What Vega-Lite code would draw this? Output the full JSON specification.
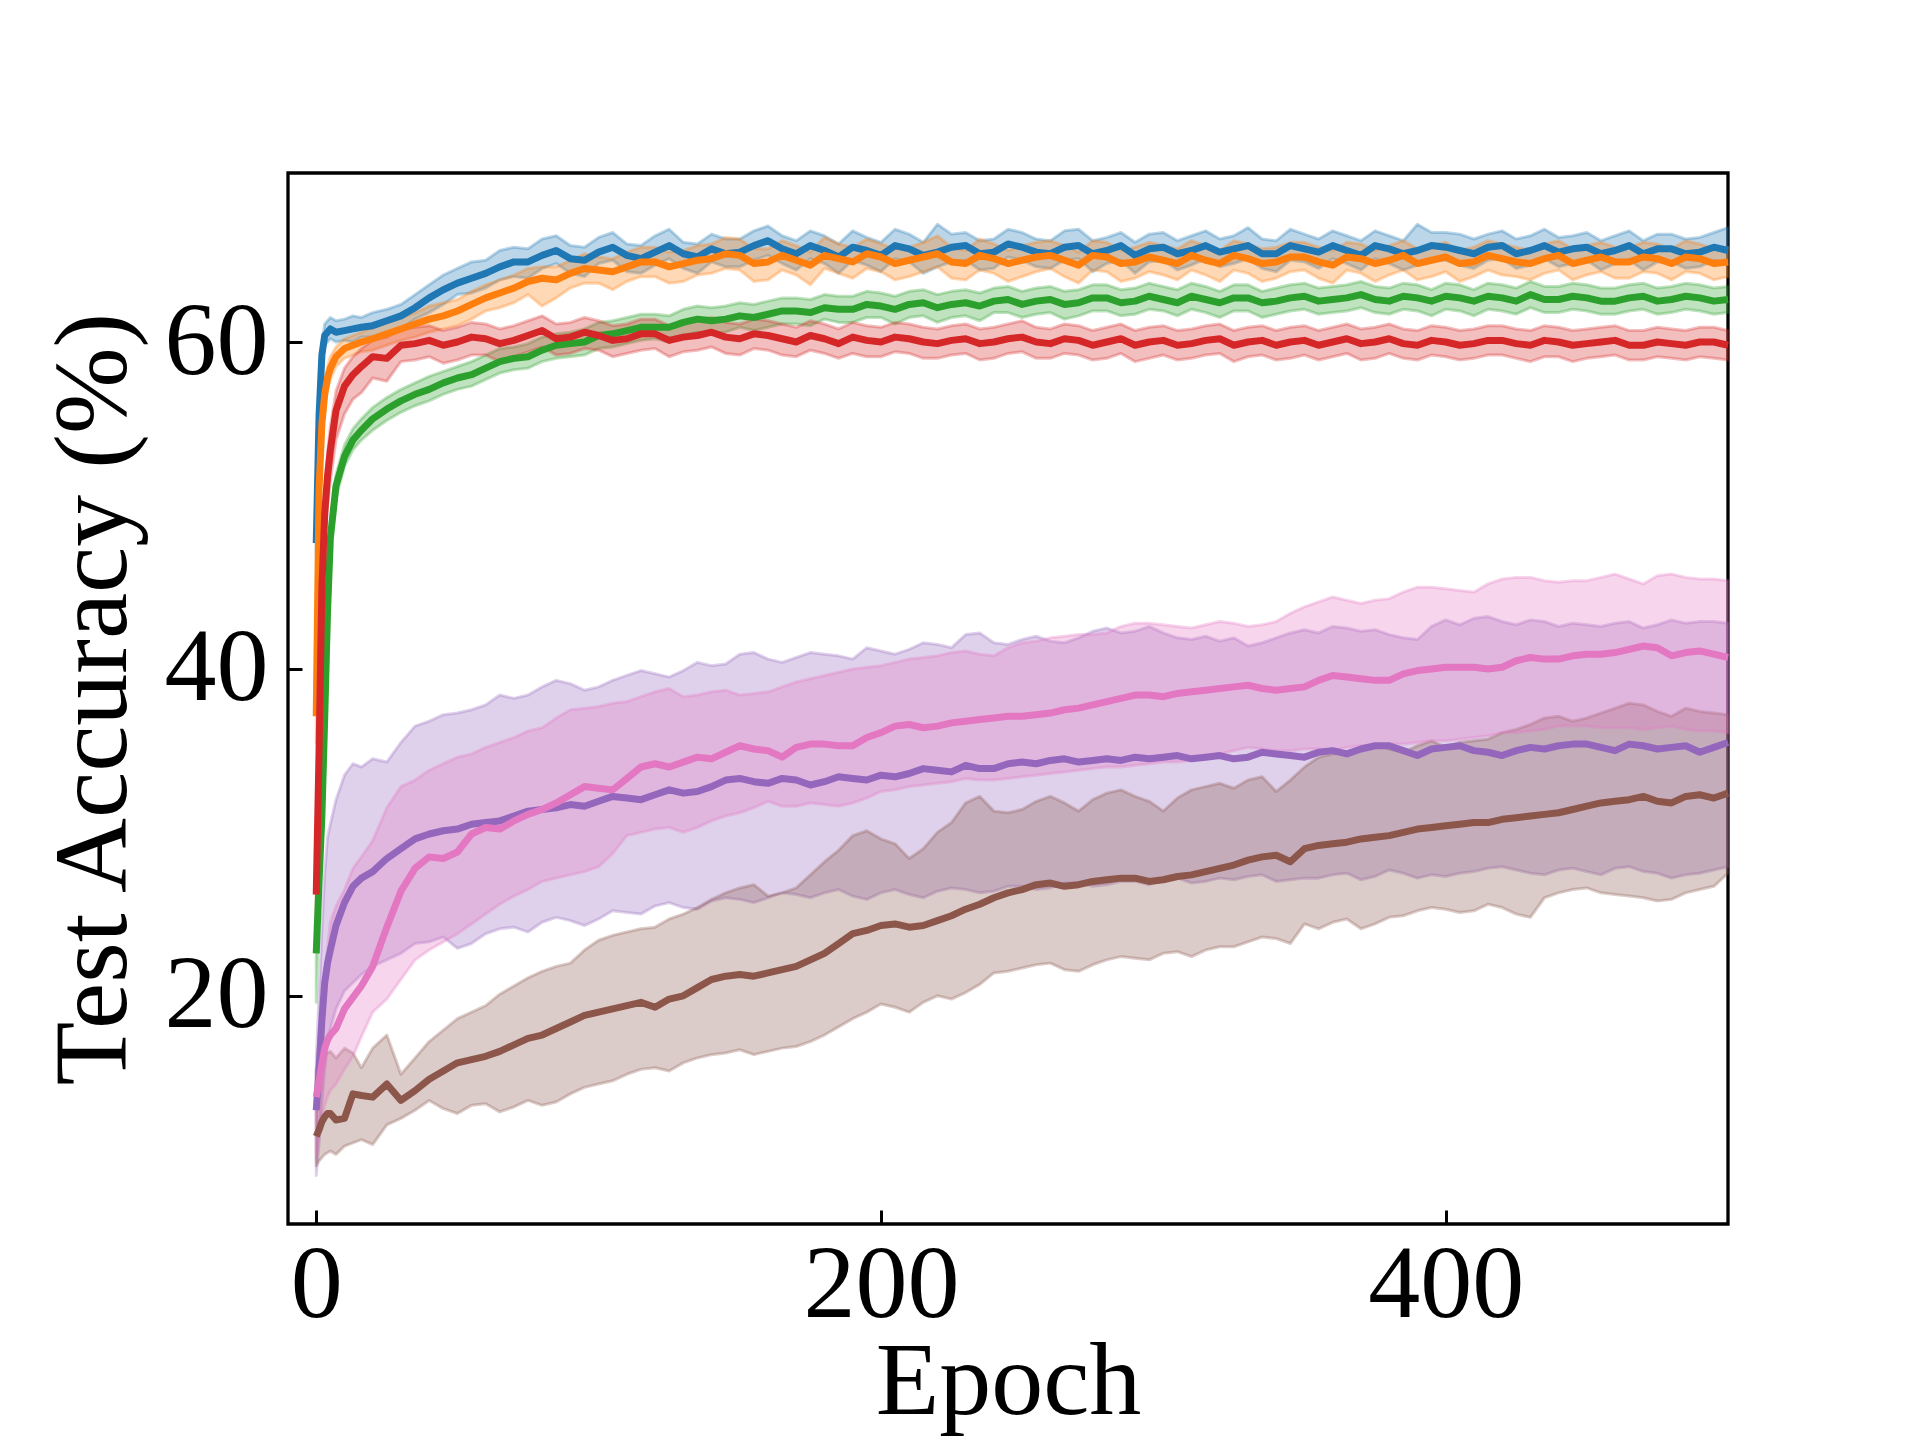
{
  "$schema": "https://vega.github.io/schema/vega-lite/v6.json",
  "description": "Test accuracy per epoch for seven runs, mean line with shaded band.",
  "width": 1440,
  "height": 1051,
  "autosize": {"type": "none"},
  "padding": {"left": 288, "top": 173, "right": 192, "bottom": 216},
  "background": "white",
  "datasets": {
    "runs": [
      {"s":"A","e":0,"m":47.7,"l":47.0,"h":48.6},{"s":"A","e":1,"m":55.5,"l":54.5,"h":56.5},{"s":"A","e":2,"m":59.2,"l":58.5,"h":59.9},{"s":"A","e":3,"m":60.4,"l":59.8,"h":61.1},{"s":"A","e":4,"m":60.6,"l":60.0,"h":61.3},{"s":"A","e":5,"m":60.8,"l":60.2,"h":61.5},{"s":"A","e":7,"m":60.6,"l":60.0,"h":61.3},{"s":"A","e":10,"m":60.7,"l":60.1,"h":61.4},{"s":"A","e":13,"m":60.8,"l":60.0,"h":61.6},{"s":"A","e":16,"m":60.9,"l":60.3,"h":61.5},{"s":"A","e":20,"m":61.0,"l":60.3,"h":61.8},{"s":"A","e":25,"m":61.3,"l":60.6,"h":62.0},{"s":"A","e":30,"m":61.6,"l":60.8,"h":62.3},{"s":"A","e":35,"m":62.1,"l":61.4,"h":62.9},{"s":"A","e":40,"m":62.7,"l":61.8,"h":63.5},{"s":"A","e":50,"m":63.6,"l":62.9,"h":64.5},{"s":"A","e":60,"m":64.2,"l":63.3,"h":65.0},{"s":"A","e":70,"m":64.9,"l":64.0,"h":65.8},{"s":"A","e":80,"m":65.3,"l":64.5,"h":66.3},{"s":"A","e":90,"m":65.1,"l":64.2,"h":65.9},{"s":"A","e":100,"m":65.5,"l":64.8,"h":66.4},{"s":"A","e":110,"m":65.3,"l":64.3,"h":66.0},{"s":"A","e":120,"m":65.5,"l":64.7,"h":66.5},{"s":"A","e":130,"m":65.4,"l":64.5,"h":66.1},{"s":"A","e":140,"m":65.7,"l":64.9,"h":66.6},{"s":"A","e":150,"m":65.5,"l":64.6,"h":66.3},{"s":"A","e":160,"m":66.2,"l":65.3,"h":67.1},{"s":"A","e":170,"m":65.4,"l":64.4,"h":66.2},{"s":"A","e":180,"m":65.6,"l":64.8,"h":66.5},{"s":"A","e":190,"m":65.8,"l":65.0,"h":66.8},{"s":"A","e":200,"m":65.3,"l":64.3,"h":66.1},{"s":"A","e":210,"m":65.7,"l":64.9,"h":66.6},{"s":"A","e":220,"m":65.5,"l":64.6,"h":67.2},{"s":"A","e":230,"m":65.9,"l":65.0,"h":66.7},{"s":"A","e":240,"m":65.5,"l":64.5,"h":66.3},{"s":"A","e":250,"m":65.8,"l":65.0,"h":66.7},{"s":"A","e":260,"m":65.4,"l":64.5,"h":66.2},{"s":"A","e":270,"m":65.9,"l":65.1,"h":66.9},{"s":"A","e":280,"m":65.6,"l":64.8,"h":66.4},{"s":"A","e":290,"m":65.3,"l":64.2,"h":66.1},{"s":"A","e":300,"m":65.8,"l":65.0,"h":66.7},{"s":"A","e":310,"m":65.6,"l":64.7,"h":66.5},{"s":"A","e":320,"m":65.5,"l":64.6,"h":66.3},{"s":"A","e":330,"m":65.9,"l":65.1,"h":67.0},{"s":"A","e":340,"m":65.4,"l":64.3,"h":66.2},{"s":"A","e":350,"m":65.7,"l":64.9,"h":66.6},{"s":"A","e":360,"m":65.9,"l":65.1,"h":66.8},{"s":"A","e":370,"m":65.3,"l":64.4,"h":66.2},{"s":"A","e":380,"m":65.7,"l":64.8,"h":66.5},{"s":"A","e":390,"m":65.6,"l":64.7,"h":67.2},{"s":"A","e":400,"m":65.8,"l":65.0,"h":66.7},{"s":"A","e":410,"m":65.4,"l":64.5,"h":66.3},{"s":"A","e":420,"m":65.9,"l":65.1,"h":66.8},{"s":"A","e":430,"m":65.6,"l":64.7,"h":66.5},{"s":"A","e":440,"m":65.5,"l":64.6,"h":66.4},{"s":"A","e":450,"m":65.8,"l":65.0,"h":66.7},{"s":"A","e":460,"m":65.6,"l":64.8,"h":66.5},{"s":"A","e":470,"m":65.4,"l":64.4,"h":66.2},{"s":"A","e":480,"m":65.7,"l":64.9,"h":66.6},{"s":"A","e":490,"m":65.5,"l":64.6,"h":66.4},{"s":"A","e":500,"m":65.6,"l":64.8,"h":67.0},
      {"s":"B","e":0,"m":37.1,"l":35.5,"h":38.5},{"s":"B","e":1,"m":51.0,"l":50.0,"h":52.0},{"s":"B","e":2,"m":55.0,"l":54.2,"h":55.8},{"s":"B","e":3,"m":56.8,"l":56.0,"h":57.6},{"s":"B","e":4,"m":57.8,"l":57.1,"h":58.5},{"s":"B","e":5,"m":58.4,"l":57.7,"h":59.1},{"s":"B","e":7,"m":59.1,"l":58.5,"h":59.7},{"s":"B","e":10,"m":59.6,"l":59.0,"h":60.2},{"s":"B","e":13,"m":59.8,"l":59.2,"h":60.4},{"s":"B","e":16,"m":60.0,"l":59.4,"h":60.6},{"s":"B","e":20,"m":60.2,"l":59.5,"h":60.9},{"s":"B","e":25,"m":60.5,"l":59.8,"h":61.2},{"s":"B","e":30,"m":60.8,"l":60.1,"h":61.5},{"s":"B","e":35,"m":61.1,"l":60.3,"h":61.8},{"s":"B","e":40,"m":61.4,"l":60.6,"h":62.2},{"s":"B","e":50,"m":61.9,"l":61.0,"h":62.6},{"s":"B","e":60,"m":62.7,"l":61.9,"h":63.5},{"s":"B","e":70,"m":63.3,"l":62.4,"h":64.1},{"s":"B","e":80,"m":63.9,"l":62.2,"h":64.6},{"s":"B","e":90,"m":64.2,"l":63.3,"h":65.0},{"s":"B","e":100,"m":64.4,"l":63.6,"h":65.2},{"s":"B","e":110,"m":64.6,"l":63.7,"h":65.5},{"s":"B","e":120,"m":64.9,"l":64.0,"h":65.8},{"s":"B","e":130,"m":64.8,"l":63.7,"h":65.6},{"s":"B","e":140,"m":65.1,"l":64.2,"h":66.0},{"s":"B","e":150,"m":65.3,"l":64.4,"h":66.3},{"s":"B","e":160,"m":64.9,"l":63.8,"h":65.7},{"s":"B","e":170,"m":65.0,"l":64.1,"h":65.9},{"s":"B","e":180,"m":65.3,"l":64.5,"h":66.4},{"s":"B","e":190,"m":64.9,"l":63.9,"h":65.8},{"s":"B","e":200,"m":65.2,"l":64.3,"h":66.0},{"s":"B","e":210,"m":65.0,"l":64.0,"h":65.8},{"s":"B","e":220,"m":65.4,"l":64.6,"h":66.5},{"s":"B","e":230,"m":64.8,"l":63.8,"h":65.6},{"s":"B","e":240,"m":65.1,"l":64.2,"h":66.0},{"s":"B","e":250,"m":65.0,"l":64.0,"h":65.9},{"s":"B","e":260,"m":65.3,"l":64.5,"h":66.2},{"s":"B","e":270,"m":64.7,"l":63.6,"h":65.5},{"s":"B","e":280,"m":65.2,"l":64.3,"h":66.1},{"s":"B","e":290,"m":64.9,"l":63.9,"h":65.8},{"s":"B","e":300,"m":65.0,"l":64.1,"h":65.9},{"s":"B","e":310,"m":65.3,"l":64.4,"h":66.2},{"s":"B","e":320,"m":64.8,"l":63.7,"h":65.6},{"s":"B","e":330,"m":65.1,"l":64.2,"h":66.0},{"s":"B","e":340,"m":64.9,"l":63.9,"h":65.8},{"s":"B","e":350,"m":65.2,"l":64.4,"h":66.1},{"s":"B","e":360,"m":64.7,"l":63.6,"h":65.6},{"s":"B","e":370,"m":65.1,"l":64.2,"h":66.0},{"s":"B","e":380,"m":65.0,"l":64.1,"h":65.9},{"s":"B","e":390,"m":64.8,"l":63.8,"h":65.7},{"s":"B","e":400,"m":65.2,"l":64.3,"h":66.1},{"s":"B","e":410,"m":64.9,"l":64.0,"h":65.8},{"s":"B","e":420,"m":65.1,"l":64.1,"h":66.0},{"s":"B","e":430,"m":64.8,"l":63.8,"h":65.6},{"s":"B","e":440,"m":65.3,"l":64.4,"h":66.2},{"s":"B","e":450,"m":65.0,"l":64.1,"h":65.9},{"s":"B","e":460,"m":64.9,"l":63.9,"h":65.8},{"s":"B","e":470,"m":65.2,"l":64.3,"h":66.1},{"s":"B","e":480,"m":64.8,"l":63.8,"h":65.7},{"s":"B","e":490,"m":65.1,"l":64.2,"h":66.0},{"s":"B","e":500,"m":64.9,"l":64.0,"h":65.8},
      {"s":"C","e":0,"m":22.6,"l":19.6,"h":23.5},{"s":"C","e":1,"m":27.0,"l":25.5,"h":28.3},{"s":"C","e":2,"m":31.0,"l":30.0,"h":32.0},{"s":"C","e":3,"m":37.0,"l":36.0,"h":38.0},{"s":"C","e":4,"m":43.5,"l":42.6,"h":44.4},{"s":"C","e":5,"m":48.0,"l":47.3,"h":48.8},{"s":"C","e":7,"m":51.2,"l":50.5,"h":51.9},{"s":"C","e":10,"m":53.0,"l":52.4,"h":53.7},{"s":"C","e":13,"m":54.0,"l":53.4,"h":54.7},{"s":"C","e":16,"m":54.6,"l":54.0,"h":55.3},{"s":"C","e":20,"m":55.3,"l":54.6,"h":56.0},{"s":"C","e":25,"m":55.9,"l":55.2,"h":56.6},{"s":"C","e":30,"m":56.4,"l":55.7,"h":57.1},{"s":"C","e":35,"m":56.8,"l":56.1,"h":57.5},{"s":"C","e":40,"m":57.1,"l":56.4,"h":57.9},{"s":"C","e":50,"m":57.8,"l":57.1,"h":58.5},{"s":"C","e":60,"m":58.4,"l":57.7,"h":59.2},{"s":"C","e":70,"m":59.0,"l":58.3,"h":59.7},{"s":"C","e":80,"m":59.5,"l":58.8,"h":60.3},{"s":"C","e":90,"m":59.9,"l":59.1,"h":60.6},{"s":"C","e":100,"m":60.4,"l":59.6,"h":61.2},{"s":"C","e":110,"m":60.7,"l":59.9,"h":61.5},{"s":"C","e":120,"m":60.9,"l":60.2,"h":61.7},{"s":"C","e":130,"m":61.2,"l":60.4,"h":62.0},{"s":"C","e":140,"m":61.3,"l":60.5,"h":62.1},{"s":"C","e":150,"m":61.6,"l":60.9,"h":62.4},{"s":"C","e":160,"m":61.7,"l":60.9,"h":62.5},{"s":"C","e":170,"m":61.9,"l":61.1,"h":62.7},{"s":"C","e":180,"m":62.1,"l":61.4,"h":62.9},{"s":"C","e":190,"m":62.0,"l":61.2,"h":62.8},{"s":"C","e":200,"m":62.2,"l":61.5,"h":63.0},{"s":"C","e":210,"m":62.3,"l":61.5,"h":63.1},{"s":"C","e":220,"m":62.1,"l":61.2,"h":62.9},{"s":"C","e":230,"m":62.4,"l":61.6,"h":63.2},{"s":"C","e":240,"m":62.5,"l":61.8,"h":63.3},{"s":"C","e":250,"m":62.3,"l":61.5,"h":63.1},{"s":"C","e":260,"m":62.6,"l":61.8,"h":63.4},{"s":"C","e":270,"m":62.4,"l":61.6,"h":63.2},{"s":"C","e":280,"m":62.7,"l":61.9,"h":63.5},{"s":"C","e":290,"m":62.5,"l":61.7,"h":63.3},{"s":"C","e":300,"m":62.6,"l":61.9,"h":63.4},{"s":"C","e":310,"m":62.8,"l":62.0,"h":63.6},{"s":"C","e":320,"m":62.4,"l":61.5,"h":63.1},{"s":"C","e":330,"m":62.7,"l":61.9,"h":63.5},{"s":"C","e":340,"m":62.5,"l":61.7,"h":63.3},{"s":"C","e":350,"m":62.8,"l":62.0,"h":63.6},{"s":"C","e":360,"m":62.6,"l":61.8,"h":63.4},{"s":"C","e":370,"m":62.9,"l":62.1,"h":63.7},{"s":"C","e":380,"m":62.5,"l":61.7,"h":63.3},{"s":"C","e":390,"m":62.7,"l":61.9,"h":63.5},{"s":"C","e":400,"m":62.8,"l":62.0,"h":63.6},{"s":"C","e":410,"m":62.5,"l":61.6,"h":63.2},{"s":"C","e":420,"m":62.7,"l":61.9,"h":63.5},{"s":"C","e":430,"m":62.9,"l":62.1,"h":63.7},{"s":"C","e":440,"m":62.6,"l":61.8,"h":63.4},{"s":"C","e":450,"m":62.7,"l":61.9,"h":63.5},{"s":"C","e":460,"m":62.5,"l":61.7,"h":63.3},{"s":"C","e":470,"m":62.8,"l":62.0,"h":63.6},{"s":"C","e":480,"m":62.6,"l":61.8,"h":63.4},{"s":"C","e":490,"m":62.7,"l":61.9,"h":63.5},{"s":"C","e":500,"m":62.6,"l":61.8,"h":63.4},
      {"s":"D","e":0,"m":26.2,"l":24.0,"h":28.0},{"s":"D","e":1,"m":35.0,"l":33.0,"h":37.0},{"s":"D","e":2,"m":45.0,"l":43.2,"h":46.8},{"s":"D","e":3,"m":49.5,"l":47.6,"h":51.0},{"s":"D","e":4,"m":51.8,"l":50.0,"h":53.2},{"s":"D","e":5,"m":53.4,"l":51.5,"h":54.8},{"s":"D","e":7,"m":55.8,"l":54.0,"h":57.0},{"s":"D","e":10,"m":57.3,"l":55.6,"h":58.4},{"s":"D","e":13,"m":58.0,"l":56.5,"h":59.1},{"s":"D","e":16,"m":58.5,"l":56.9,"h":59.6},{"s":"D","e":20,"m":59.1,"l":57.8,"h":60.1},{"s":"D","e":25,"m":59.0,"l":57.6,"h":60.3},{"s":"D","e":30,"m":59.8,"l":58.8,"h":60.8},{"s":"D","e":35,"m":59.9,"l":58.9,"h":60.9},{"s":"D","e":40,"m":60.1,"l":59.1,"h":61.0},{"s":"D","e":50,"m":60.0,"l":58.9,"h":60.9},{"s":"D","e":60,"m":60.2,"l":59.2,"h":61.1},{"s":"D","e":70,"m":60.1,"l":59.1,"h":61.0},{"s":"D","e":80,"m":60.7,"l":59.7,"h":61.6},{"s":"D","e":90,"m":60.3,"l":59.3,"h":61.2},{"s":"D","e":100,"m":60.4,"l":59.5,"h":61.3},{"s":"D","e":110,"m":60.2,"l":59.3,"h":61.1},{"s":"D","e":120,"m":60.5,"l":59.6,"h":61.4},{"s":"D","e":130,"m":60.3,"l":59.4,"h":61.2},{"s":"D","e":140,"m":60.6,"l":59.7,"h":61.5},{"s":"D","e":150,"m":60.2,"l":59.2,"h":61.1},{"s":"D","e":160,"m":60.4,"l":59.5,"h":61.3},{"s":"D","e":170,"m":60.0,"l":59.1,"h":60.9},{"s":"D","e":180,"m":60.2,"l":59.3,"h":61.1},{"s":"D","e":190,"m":60.3,"l":59.3,"h":61.2},{"s":"D","e":200,"m":60.0,"l":59.1,"h":60.9},{"s":"D","e":210,"m":60.2,"l":59.3,"h":61.1},{"s":"D","e":220,"m":59.9,"l":59.0,"h":60.8},{"s":"D","e":230,"m":60.2,"l":59.3,"h":61.1},{"s":"D","e":240,"m":60.0,"l":59.0,"h":60.9},{"s":"D","e":250,"m":60.3,"l":59.4,"h":61.3},{"s":"D","e":260,"m":59.9,"l":59.0,"h":60.8},{"s":"D","e":270,"m":60.1,"l":59.2,"h":61.0},{"s":"D","e":280,"m":60.0,"l":59.0,"h":60.9},{"s":"D","e":290,"m":59.8,"l":58.8,"h":60.7},{"s":"D","e":300,"m":60.1,"l":59.2,"h":61.0},{"s":"D","e":310,"m":59.9,"l":59.0,"h":60.8},{"s":"D","e":320,"m":60.2,"l":59.3,"h":61.1},{"s":"D","e":330,"m":60.0,"l":59.1,"h":60.9},{"s":"D","e":340,"m":59.8,"l":58.9,"h":60.7},{"s":"D","e":350,"m":60.1,"l":59.2,"h":61.0},{"s":"D","e":360,"m":60.0,"l":59.1,"h":60.9},{"s":"D","e":370,"m":59.9,"l":58.9,"h":60.8},{"s":"D","e":380,"m":60.2,"l":59.3,"h":61.1},{"s":"D","e":390,"m":59.8,"l":58.9,"h":60.7},{"s":"D","e":400,"m":60.0,"l":59.1,"h":60.9},{"s":"D","e":410,"m":59.9,"l":59.0,"h":60.8},{"s":"D","e":420,"m":60.1,"l":59.2,"h":61.0},{"s":"D","e":430,"m":59.8,"l":58.8,"h":60.7},{"s":"D","e":440,"m":60.0,"l":59.1,"h":60.9},{"s":"D","e":450,"m":59.9,"l":59.0,"h":60.8},{"s":"D","e":460,"m":60.1,"l":59.2,"h":61.0},{"s":"D","e":470,"m":59.8,"l":58.9,"h":60.7},{"s":"D","e":480,"m":59.9,"l":59.0,"h":60.8},{"s":"D","e":490,"m":60.0,"l":59.1,"h":60.9},{"s":"D","e":500,"m":59.8,"l":58.9,"h":60.7},
      {"s":"E","e":0,"m":13.0,"l":9.0,"h":16.0},{"s":"E","e":1,"m":15.5,"l":11.0,"h":20.0},{"s":"E","e":2,"m":18.5,"l":13.5,"h":24.0},{"s":"E","e":3,"m":20.8,"l":15.5,"h":27.5},{"s":"E","e":4,"m":22.0,"l":17.0,"h":29.7},{"s":"E","e":5,"m":22.8,"l":18.0,"h":30.5},{"s":"E","e":7,"m":24.3,"l":19.2,"h":32.0},{"s":"E","e":10,"m":25.7,"l":20.3,"h":33.5},{"s":"E","e":13,"m":26.7,"l":20.8,"h":34.2},{"s":"E","e":16,"m":27.2,"l":21.3,"h":34.0},{"s":"E","e":20,"m":27.6,"l":21.8,"h":34.5},{"s":"E","e":25,"m":28.4,"l":22.2,"h":34.3},{"s":"E","e":30,"m":29.0,"l":22.6,"h":35.5},{"s":"E","e":35,"m":29.6,"l":23.2,"h":36.5},{"s":"E","e":40,"m":29.9,"l":23.3,"h":36.8},{"s":"E","e":50,"m":30.2,"l":22.9,"h":37.3},{"s":"E","e":60,"m":30.6,"l":23.8,"h":37.8},{"s":"E","e":70,"m":31.0,"l":24.2,"h":38.2},{"s":"E","e":80,"m":31.4,"l":24.5,"h":38.9},{"s":"E","e":90,"m":31.7,"l":24.6,"h":39.1},{"s":"E","e":100,"m":31.9,"l":24.7,"h":38.9},{"s":"E","e":110,"m":32.1,"l":25.1,"h":39.6},{"s":"E","e":120,"m":32.3,"l":25.5,"h":39.7},{"s":"E","e":130,"m":32.4,"l":25.4,"h":39.9},{"s":"E","e":140,"m":32.8,"l":25.8,"h":40.2},{"s":"E","e":150,"m":33.3,"l":25.9,"h":40.9},{"s":"E","e":160,"m":33.0,"l":26.0,"h":40.6},{"s":"E","e":170,"m":33.2,"l":26.2,"h":40.7},{"s":"E","e":180,"m":33.1,"l":26.3,"h":40.9},{"s":"E","e":190,"m":33.3,"l":26.1,"h":40.6},{"s":"E","e":200,"m":33.5,"l":26.3,"h":41.1},{"s":"E","e":210,"m":33.6,"l":26.2,"h":41.2},{"s":"E","e":220,"m":33.8,"l":26.4,"h":41.5},{"s":"E","e":230,"m":34.1,"l":26.5,"h":42.1},{"s":"E","e":240,"m":33.9,"l":26.4,"h":41.6},{"s":"E","e":250,"m":34.3,"l":26.7,"h":41.8},{"s":"E","e":260,"m":34.4,"l":26.6,"h":41.7},{"s":"E","e":270,"m":34.3,"l":26.9,"h":41.9},{"s":"E","e":280,"m":34.5,"l":26.8,"h":42.5},{"s":"E","e":290,"m":34.6,"l":27.0,"h":42.3},{"s":"E","e":300,"m":34.6,"l":27.1,"h":42.2},{"s":"E","e":310,"m":34.5,"l":26.9,"h":41.8},{"s":"E","e":320,"m":34.7,"l":27.2,"h":41.7},{"s":"E","e":330,"m":34.6,"l":27.3,"h":41.4},{"s":"E","e":340,"m":34.8,"l":27.0,"h":41.9},{"s":"E","e":350,"m":34.6,"l":27.2,"h":42.4},{"s":"E","e":360,"m":35.0,"l":27.4,"h":42.6},{"s":"E","e":370,"m":35.1,"l":27.1,"h":42.3},{"s":"E","e":380,"m":35.3,"l":27.7,"h":42.1},{"s":"E","e":390,"m":34.7,"l":27.2,"h":41.8},{"s":"E","e":400,"m":35.2,"l":27.3,"h":43.0},{"s":"E","e":410,"m":35.0,"l":27.6,"h":43.1},{"s":"E","e":420,"m":34.7,"l":27.9,"h":42.9},{"s":"E","e":430,"m":35.2,"l":27.5,"h":43.0},{"s":"E","e":440,"m":35.3,"l":27.7,"h":42.6},{"s":"E","e":450,"m":35.4,"l":27.6,"h":42.7},{"s":"E","e":460,"m":35.0,"l":27.8,"h":42.8},{"s":"E","e":470,"m":35.3,"l":27.6,"h":42.5},{"s":"E","e":480,"m":35.2,"l":27.2,"h":43.0},{"s":"E","e":490,"m":34.9,"l":27.5,"h":42.9},{"s":"E","e":500,"m":35.5,"l":27.9,"h":42.8},
      {"s":"F","e":0,"m":11.4,"l":9.6,"h":15.5},{"s":"F","e":1,"m":11.8,"l":9.9,"h":16.0},{"s":"F","e":2,"m":12.3,"l":10.1,"h":16.3},{"s":"F","e":3,"m":12.6,"l":10.3,"h":16.5},{"s":"F","e":4,"m":12.8,"l":10.4,"h":16.5},{"s":"F","e":5,"m":12.8,"l":10.5,"h":16.6},{"s":"F","e":7,"m":12.4,"l":10.3,"h":16.2},{"s":"F","e":10,"m":12.5,"l":10.8,"h":16.8},{"s":"F","e":13,"m":14.0,"l":11.0,"h":16.5},{"s":"F","e":16,"m":13.9,"l":11.2,"h":15.6},{"s":"F","e":20,"m":13.8,"l":10.9,"h":16.8},{"s":"F","e":25,"m":14.6,"l":12.1,"h":17.6},{"s":"F","e":30,"m":13.6,"l":12.5,"h":15.2},{"s":"F","e":35,"m":14.2,"l":13.0,"h":16.2},{"s":"F","e":40,"m":14.9,"l":13.6,"h":17.2},{"s":"F","e":50,"m":15.9,"l":12.8,"h":18.6},{"s":"F","e":60,"m":16.3,"l":13.4,"h":19.4},{"s":"F","e":70,"m":17.0,"l":13.2,"h":20.6},{"s":"F","e":80,"m":17.6,"l":13.3,"h":21.5},{"s":"F","e":90,"m":18.4,"l":14.0,"h":22.0},{"s":"F","e":100,"m":19.0,"l":14.6,"h":23.4},{"s":"F","e":110,"m":19.4,"l":15.2,"h":23.9},{"s":"F","e":120,"m":19.3,"l":15.6,"h":24.2},{"s":"F","e":130,"m":20.0,"l":15.9,"h":25.0},{"s":"F","e":140,"m":21.0,"l":16.4,"h":25.9},{"s":"F","e":150,"m":21.3,"l":16.7,"h":26.6},{"s":"F","e":160,"m":21.4,"l":16.6,"h":26.1},{"s":"F","e":170,"m":21.8,"l":16.9,"h":26.6},{"s":"F","e":180,"m":22.6,"l":17.6,"h":28.2},{"s":"F","e":190,"m":23.8,"l":18.6,"h":29.8},{"s":"F","e":200,"m":24.3,"l":19.5,"h":29.6},{"s":"F","e":210,"m":24.2,"l":19.0,"h":28.4},{"s":"F","e":220,"m":24.6,"l":20.0,"h":30.0},{"s":"F","e":230,"m":25.3,"l":20.2,"h":31.8},{"s":"F","e":240,"m":26.0,"l":21.4,"h":31.3},{"s":"F","e":250,"m":26.5,"l":21.7,"h":31.4},{"s":"F","e":260,"m":26.9,"l":22.0,"h":32.2},{"s":"F","e":270,"m":26.8,"l":21.5,"h":31.3},{"s":"F","e":280,"m":27.1,"l":22.2,"h":32.4},{"s":"F","e":290,"m":27.2,"l":22.3,"h":32.2},{"s":"F","e":300,"m":27.1,"l":22.6,"h":31.3},{"s":"F","e":310,"m":27.4,"l":22.4,"h":32.6},{"s":"F","e":320,"m":27.8,"l":23.0,"h":33.0},{"s":"F","e":330,"m":28.3,"l":23.3,"h":33.2},{"s":"F","e":340,"m":28.6,"l":23.5,"h":32.5},{"s":"F","e":350,"m":29.0,"l":24.4,"h":34.0},{"s":"F","e":360,"m":29.3,"l":24.5,"h":34.8},{"s":"F","e":370,"m":29.6,"l":24.1,"h":35.2},{"s":"F","e":380,"m":29.8,"l":24.8,"h":35.1},{"s":"F","e":390,"m":30.2,"l":25.2,"h":35.3},{"s":"F","e":400,"m":30.4,"l":25.3,"h":35.2},{"s":"F","e":410,"m":30.6,"l":25.2,"h":35.6},{"s":"F","e":420,"m":30.8,"l":25.4,"h":36.1},{"s":"F","e":430,"m":31.0,"l":24.8,"h":36.6},{"s":"F","e":440,"m":31.2,"l":26.3,"h":37.1},{"s":"F","e":450,"m":31.6,"l":26.6,"h":37.0},{"s":"F","e":460,"m":31.9,"l":26.2,"h":37.6},{"s":"F","e":470,"m":32.2,"l":26.0,"h":37.8},{"s":"F","e":480,"m":31.8,"l":25.9,"h":37.1},{"s":"F","e":490,"m":32.3,"l":26.5,"h":37.4},{"s":"F","e":500,"m":32.4,"l":27.5,"h":37.2},
      {"s":"G","e":0,"m":13.8,"l":10.0,"h":15.5},{"s":"G","e":1,"m":14.8,"l":11.5,"h":17.5},{"s":"G","e":2,"m":15.8,"l":12.5,"h":19.5},{"s":"G","e":3,"m":16.8,"l":13.3,"h":21.5},{"s":"G","e":4,"m":17.3,"l":13.8,"h":23.0},{"s":"G","e":5,"m":17.6,"l":14.2,"h":24.5},{"s":"G","e":7,"m":18.0,"l":14.6,"h":25.5},{"s":"G","e":10,"m":19.2,"l":15.5,"h":26.5},{"s":"G","e":13,"m":19.9,"l":16.3,"h":27.8},{"s":"G","e":16,"m":20.6,"l":17.5,"h":28.5},{"s":"G","e":20,"m":21.8,"l":19.0,"h":29.5},{"s":"G","e":25,"m":24.2,"l":19.8,"h":31.5},{"s":"G","e":30,"m":26.4,"l":21.0,"h":32.8},{"s":"G","e":35,"m":27.8,"l":22.2,"h":33.2},{"s":"G","e":40,"m":28.5,"l":22.8,"h":33.8},{"s":"G","e":50,"m":28.8,"l":23.8,"h":34.6},{"s":"G","e":60,"m":30.3,"l":25.0,"h":35.2},{"s":"G","e":70,"m":30.7,"l":26.1,"h":35.8},{"s":"G","e":80,"m":31.4,"l":27.0,"h":36.4},{"s":"G","e":90,"m":32.3,"l":27.4,"h":37.5},{"s":"G","e":100,"m":32.7,"l":27.9,"h":37.7},{"s":"G","e":110,"m":33.3,"l":29.8,"h":38.0},{"s":"G","e":120,"m":34.2,"l":30.2,"h":38.6},{"s":"G","e":130,"m":34.3,"l":30.0,"h":38.3},{"s":"G","e":140,"m":34.5,"l":30.7,"h":38.6},{"s":"G","e":150,"m":35.3,"l":31.2,"h":38.4},{"s":"G","e":160,"m":35.0,"l":31.9,"h":38.6},{"s":"G","e":170,"m":35.2,"l":31.6,"h":39.2},{"s":"G","e":180,"m":35.4,"l":31.7,"h":39.6},{"s":"G","e":190,"m":35.3,"l":31.8,"h":40.0},{"s":"G","e":200,"m":36.1,"l":32.5,"h":40.2},{"s":"G","e":210,"m":36.6,"l":32.8,"h":40.6},{"s":"G","e":220,"m":36.5,"l":33.0,"h":40.8},{"s":"G","e":230,"m":36.8,"l":33.3,"h":41.1},{"s":"G","e":240,"m":37.0,"l":33.2,"h":40.8},{"s":"G","e":250,"m":37.1,"l":33.4,"h":41.6},{"s":"G","e":260,"m":37.3,"l":33.6,"h":41.9},{"s":"G","e":270,"m":37.6,"l":33.8,"h":42.1},{"s":"G","e":280,"m":38.0,"l":34.0,"h":42.2},{"s":"G","e":290,"m":38.4,"l":34.1,"h":42.8},{"s":"G","e":300,"m":38.3,"l":34.3,"h":42.7},{"s":"G","e":310,"m":38.6,"l":34.4,"h":42.5},{"s":"G","e":320,"m":38.8,"l":34.8,"h":42.9},{"s":"G","e":330,"m":39.0,"l":35.2,"h":42.6},{"s":"G","e":340,"m":38.7,"l":35.0,"h":42.9},{"s":"G","e":350,"m":38.9,"l":35.1,"h":43.8},{"s":"G","e":360,"m":39.6,"l":35.0,"h":44.4},{"s":"G","e":370,"m":39.4,"l":35.3,"h":44.0},{"s":"G","e":380,"m":39.3,"l":35.4,"h":44.3},{"s":"G","e":390,"m":39.9,"l":35.5,"h":45.0},{"s":"G","e":400,"m":40.1,"l":35.6,"h":44.9},{"s":"G","e":410,"m":40.1,"l":35.8,"h":44.7},{"s":"G","e":420,"m":40.1,"l":36.1,"h":45.5},{"s":"G","e":430,"m":40.7,"l":36.2,"h":45.6},{"s":"G","e":440,"m":40.6,"l":36.5,"h":45.3},{"s":"G","e":450,"m":40.9,"l":36.5,"h":45.4},{"s":"G","e":460,"m":41.0,"l":36.4,"h":45.8},{"s":"G","e":470,"m":41.4,"l":36.3,"h":45.2},{"s":"G","e":480,"m":40.8,"l":36.5,"h":45.8},{"s":"G","e":490,"m":41.1,"l":36.2,"h":45.5},{"s":"G","e":500,"m":40.7,"l":36.1,"h":45.4},
      {"s":"A","e":45,"m":63.2,"l":62.3,"h":64.1},{"s":"A","e":55,"m":63.9,"l":63.0,"h":64.9},{"s":"A","e":65,"m":64.6,"l":63.8,"h":65.6},{"s":"A","e":75,"m":64.9,"l":63.9,"h":65.7},{"s":"A","e":85,"m":65.6,"l":64.8,"h":66.5},{"s":"A","e":95,"m":65.0,"l":64.0,"h":65.8},{"s":"A","e":105,"m":65.8,"l":65.0,"h":66.7},{"s":"A","e":115,"m":65.1,"l":64.2,"h":65.9},{"s":"A","e":125,"m":65.9,"l":65.1,"h":66.9},{"s":"A","e":135,"m":65.2,"l":64.2,"h":66.0},{"s":"A","e":145,"m":65.4,"l":64.6,"h":66.3},{"s":"A","e":155,"m":65.9,"l":65.0,"h":66.8},{"s":"A","e":165,"m":65.7,"l":64.8,"h":66.5},{"s":"A","e":175,"m":65.9,"l":65.1,"h":66.8},{"s":"A","e":185,"m":65.2,"l":64.2,"h":66.0},{"s":"A","e":195,"m":65.6,"l":64.7,"h":66.4},{"s":"A","e":205,"m":65.9,"l":65.1,"h":66.9},{"s":"A","e":215,"m":65.3,"l":64.2,"h":66.1},{"s":"A","e":225,"m":65.8,"l":64.9,"h":66.6},{"s":"A","e":235,"m":65.4,"l":64.4,"h":66.2},{"s":"A","e":245,"m":66.0,"l":65.2,"h":66.9},{"s":"A","e":255,"m":65.5,"l":64.6,"h":66.3},{"s":"A","e":265,"m":65.8,"l":65.0,"h":66.8},{"s":"A","e":275,"m":65.4,"l":64.3,"h":66.2},{"s":"A","e":285,"m":65.9,"l":65.0,"h":66.7},{"s":"A","e":295,"m":65.7,"l":64.9,"h":66.6},{"s":"A","e":305,"m":65.4,"l":64.4,"h":66.2},{"s":"A","e":315,"m":65.9,"l":65.1,"h":66.8},{"s":"A","e":325,"m":65.7,"l":64.8,"h":66.5},{"s":"A","e":335,"m":65.4,"l":64.5,"h":66.3},{"s":"A","e":345,"m":65.9,"l":65.0,"h":66.9},{"s":"A","e":355,"m":65.5,"l":64.5,"h":66.3},{"s":"A","e":365,"m":65.6,"l":64.8,"h":66.5},{"s":"A","e":375,"m":65.9,"l":65.1,"h":66.8},{"s":"A","e":385,"m":65.4,"l":64.4,"h":66.2},{"s":"A","e":395,"m":65.9,"l":65.0,"h":66.7},{"s":"A","e":405,"m":65.6,"l":64.7,"h":66.6},{"s":"A","e":415,"m":65.8,"l":65.0,"h":66.6},{"s":"A","e":425,"m":65.4,"l":64.5,"h":66.3},{"s":"A","e":435,"m":65.9,"l":65.1,"h":66.9},{"s":"A","e":445,"m":65.7,"l":64.8,"h":66.5},{"s":"A","e":455,"m":65.4,"l":64.4,"h":66.2},{"s":"A","e":465,"m":65.9,"l":65.0,"h":66.8},{"s":"A","e":475,"m":65.7,"l":64.9,"h":66.6},{"s":"A","e":485,"m":65.4,"l":64.5,"h":66.3},{"s":"A","e":495,"m":65.8,"l":65.0,"h":66.7},
      {"s":"B","e":45,"m":61.6,"l":60.8,"h":62.4},{"s":"B","e":55,"m":62.3,"l":61.4,"h":63.1},{"s":"B","e":65,"m":63.0,"l":62.1,"h":63.8},{"s":"B","e":75,"m":63.7,"l":62.9,"h":64.5},{"s":"B","e":85,"m":63.8,"l":62.7,"h":64.6},{"s":"B","e":95,"m":64.5,"l":63.6,"h":65.4},{"s":"B","e":105,"m":64.3,"l":63.2,"h":65.1},{"s":"B","e":115,"m":64.9,"l":64.0,"h":65.8},{"s":"B","e":125,"m":64.6,"l":63.6,"h":65.5},{"s":"B","e":135,"m":65.0,"l":64.1,"h":65.9},{"s":"B","e":145,"m":65.4,"l":64.5,"h":66.4},{"s":"B","e":155,"m":64.8,"l":63.7,"h":65.7},{"s":"B","e":165,"m":65.3,"l":64.4,"h":66.2},{"s":"B","e":175,"m":64.7,"l":63.5,"h":65.5},{"s":"B","e":185,"m":65.1,"l":64.2,"h":66.0},{"s":"B","e":195,"m":65.4,"l":64.5,"h":66.3},{"s":"B","e":205,"m":64.8,"l":63.8,"h":65.7},{"s":"B","e":215,"m":65.2,"l":64.3,"h":66.1},{"s":"B","e":225,"m":64.9,"l":63.9,"h":65.8},{"s":"B","e":235,"m":65.3,"l":64.4,"h":66.3},{"s":"B","e":245,"m":64.8,"l":63.7,"h":65.6},{"s":"B","e":255,"m":65.2,"l":64.3,"h":66.1},{"s":"B","e":265,"m":65.0,"l":64.0,"h":65.9},{"s":"B","e":275,"m":65.3,"l":64.4,"h":66.2},{"s":"B","e":285,"m":64.8,"l":63.7,"h":65.6},{"s":"B","e":295,"m":65.2,"l":64.3,"h":66.1},{"s":"B","e":305,"m":64.8,"l":63.8,"h":65.7},{"s":"B","e":315,"m":65.0,"l":64.1,"h":65.9},{"s":"B","e":325,"m":65.3,"l":64.4,"h":66.2},{"s":"B","e":335,"m":64.8,"l":63.7,"h":65.7},{"s":"B","e":345,"m":65.2,"l":64.3,"h":66.1},{"s":"B","e":355,"m":64.9,"l":63.9,"h":65.8},{"s":"B","e":365,"m":65.2,"l":64.4,"h":66.1},{"s":"B","e":375,"m":64.8,"l":63.7,"h":65.6},{"s":"B","e":385,"m":65.3,"l":64.4,"h":66.2},{"s":"B","e":395,"m":65.0,"l":64.0,"h":65.9},{"s":"B","e":405,"m":64.8,"l":63.7,"h":65.6},{"s":"B","e":415,"m":65.3,"l":64.4,"h":66.2},{"s":"B","e":425,"m":64.9,"l":64.0,"h":65.8},{"s":"B","e":435,"m":65.1,"l":64.2,"h":66.0},{"s":"B","e":445,"m":64.8,"l":63.8,"h":65.7},{"s":"B","e":455,"m":65.2,"l":64.3,"h":66.1},{"s":"B","e":465,"m":64.9,"l":63.9,"h":65.8},{"s":"B","e":475,"m":65.1,"l":64.2,"h":66.0},{"s":"B","e":485,"m":65.2,"l":64.3,"h":66.2},{"s":"B","e":495,"m":64.8,"l":63.8,"h":65.7},
      {"s":"C","e":45,"m":57.5,"l":56.8,"h":58.2},{"s":"C","e":55,"m":58.0,"l":57.3,"h":58.8},{"s":"C","e":65,"m":58.8,"l":58.1,"h":59.6},{"s":"C","e":75,"m":59.1,"l":58.4,"h":59.9},{"s":"C","e":85,"m":59.8,"l":59.0,"h":60.5},{"s":"C","e":95,"m":60.0,"l":59.2,"h":60.8},{"s":"C","e":105,"m":60.5,"l":59.7,"h":61.3},{"s":"C","e":115,"m":60.9,"l":60.1,"h":61.7},{"s":"C","e":125,"m":60.9,"l":60.0,"h":61.6},{"s":"C","e":135,"m":61.4,"l":60.6,"h":62.2},{"s":"C","e":145,"m":61.4,"l":60.6,"h":62.2},{"s":"C","e":155,"m":61.5,"l":60.7,"h":62.3},{"s":"C","e":165,"m":61.9,"l":61.1,"h":62.7},{"s":"C","e":175,"m":61.8,"l":61.0,"h":62.6},{"s":"C","e":185,"m":62.0,"l":61.2,"h":62.8},{"s":"C","e":195,"m":62.3,"l":61.5,"h":63.1},{"s":"C","e":205,"m":62.0,"l":61.1,"h":62.8},{"s":"C","e":215,"m":62.4,"l":61.6,"h":63.2},{"s":"C","e":225,"m":62.3,"l":61.5,"h":63.1},{"s":"C","e":235,"m":62.2,"l":61.3,"h":63.0},{"s":"C","e":245,"m":62.6,"l":61.8,"h":63.4},{"s":"C","e":255,"m":62.5,"l":61.7,"h":63.3},{"s":"C","e":265,"m":62.3,"l":61.4,"h":63.1},{"s":"C","e":275,"m":62.7,"l":61.9,"h":63.5},{"s":"C","e":285,"m":62.4,"l":61.6,"h":63.2},{"s":"C","e":295,"m":62.8,"l":62.0,"h":63.6},{"s":"C","e":305,"m":62.4,"l":61.6,"h":63.2},{"s":"C","e":315,"m":62.6,"l":61.8,"h":63.4},{"s":"C","e":325,"m":62.7,"l":61.9,"h":63.5},{"s":"C","e":335,"m":62.4,"l":61.5,"h":63.1},{"s":"C","e":345,"m":62.7,"l":61.9,"h":63.5},{"s":"C","e":355,"m":62.5,"l":61.7,"h":63.3},{"s":"C","e":365,"m":62.7,"l":61.9,"h":63.5},{"s":"C","e":375,"m":62.6,"l":61.8,"h":63.4},{"s":"C","e":385,"m":62.8,"l":62.0,"h":63.6},{"s":"C","e":395,"m":62.5,"l":61.6,"h":63.2},{"s":"C","e":405,"m":62.7,"l":61.9,"h":63.5},{"s":"C","e":415,"m":62.8,"l":62.0,"h":63.6},{"s":"C","e":425,"m":62.5,"l":61.7,"h":63.3},{"s":"C","e":435,"m":62.6,"l":61.8,"h":63.4},{"s":"C","e":445,"m":62.8,"l":62.0,"h":63.6},{"s":"C","e":455,"m":62.5,"l":61.7,"h":63.3},{"s":"C","e":465,"m":62.7,"l":61.9,"h":63.5},{"s":"C","e":475,"m":62.5,"l":61.7,"h":63.3},{"s":"C","e":485,"m":62.8,"l":62.0,"h":63.6},{"s":"C","e":495,"m":62.5,"l":61.7,"h":63.3},
      {"s":"D","e":45,"m":59.8,"l":58.7,"h":60.7},{"s":"D","e":55,"m":60.3,"l":59.2,"h":61.2},{"s":"D","e":65,"m":59.9,"l":58.8,"h":60.8},{"s":"D","e":75,"m":60.4,"l":59.4,"h":61.3},{"s":"D","e":85,"m":60.2,"l":59.2,"h":61.1},{"s":"D","e":95,"m":60.6,"l":59.6,"h":61.5},{"s":"D","e":105,"m":60.1,"l":59.1,"h":61.0},{"s":"D","e":115,"m":60.5,"l":59.5,"h":61.4},{"s":"D","e":125,"m":60.1,"l":59.1,"h":61.0},{"s":"D","e":135,"m":60.4,"l":59.5,"h":61.3},{"s":"D","e":145,"m":60.3,"l":59.3,"h":61.2},{"s":"D","e":155,"m":60.5,"l":59.6,"h":61.4},{"s":"D","e":165,"m":60.2,"l":59.2,"h":61.1},{"s":"D","e":175,"m":60.4,"l":59.5,"h":61.3},{"s":"D","e":185,"m":59.9,"l":59.0,"h":60.8},{"s":"D","e":195,"m":60.1,"l":59.1,"h":61.0},{"s":"D","e":205,"m":60.3,"l":59.4,"h":61.2},{"s":"D","e":215,"m":60.0,"l":59.0,"h":60.9},{"s":"D","e":225,"m":60.1,"l":59.2,"h":61.0},{"s":"D","e":235,"m":59.9,"l":58.9,"h":60.8},{"s":"D","e":245,"m":60.2,"l":59.3,"h":61.1},{"s":"D","e":255,"m":60.0,"l":59.0,"h":60.9},{"s":"D","e":265,"m":60.2,"l":59.3,"h":61.1},{"s":"D","e":275,"m":59.8,"l":58.9,"h":60.7},{"s":"D","e":285,"m":60.2,"l":59.3,"h":61.1},{"s":"D","e":295,"m":60.0,"l":59.0,"h":60.9},{"s":"D","e":305,"m":59.8,"l":58.9,"h":60.7},{"s":"D","e":315,"m":60.1,"l":59.2,"h":61.0},{"s":"D","e":325,"m":59.8,"l":58.8,"h":60.7},{"s":"D","e":335,"m":60.1,"l":59.2,"h":61.0},{"s":"D","e":345,"m":60.0,"l":59.0,"h":60.9},{"s":"D","e":355,"m":59.8,"l":58.9,"h":60.7},{"s":"D","e":365,"m":60.2,"l":59.3,"h":61.1},{"s":"D","e":375,"m":60.0,"l":59.0,"h":60.9},{"s":"D","e":385,"m":59.9,"l":59.0,"h":60.8},{"s":"D","e":395,"m":60.1,"l":59.2,"h":61.0},{"s":"D","e":405,"m":59.8,"l":58.9,"h":60.7},{"s":"D","e":415,"m":60.1,"l":59.2,"h":61.0},{"s":"D","e":425,"m":59.9,"l":59.0,"h":60.8},{"s":"D","e":435,"m":60.1,"l":59.1,"h":61.0},{"s":"D","e":445,"m":59.8,"l":58.8,"h":60.7},{"s":"D","e":455,"m":60.0,"l":59.1,"h":60.9},{"s":"D","e":465,"m":59.8,"l":58.9,"h":60.7},{"s":"D","e":475,"m":60.0,"l":59.1,"h":60.9},{"s":"D","e":485,"m":59.8,"l":58.9,"h":60.7},{"s":"D","e":495,"m":60.0,"l":59.0,"h":60.9},
      {"s":"E","e":45,"m":30.1,"l":23.6,"h":37.2},{"s":"E","e":55,"m":30.5,"l":23.2,"h":37.5},{"s":"E","e":65,"m":30.7,"l":24.1,"h":38.4},{"s":"E","e":75,"m":31.3,"l":23.9,"h":38.4},{"s":"E","e":85,"m":31.5,"l":24.8,"h":39.3},{"s":"E","e":95,"m":31.6,"l":24.3,"h":38.7},{"s":"E","e":105,"m":32.2,"l":25.2,"h":39.3},{"s":"E","e":115,"m":32.0,"l":25.0,"h":39.9},{"s":"E","e":125,"m":32.6,"l":25.7,"h":39.5},{"s":"E","e":135,"m":32.5,"l":25.3,"h":40.4},{"s":"E","e":145,"m":33.2,"l":26.0,"h":40.3},{"s":"E","e":155,"m":33.1,"l":25.7,"h":41.0},{"s":"E","e":165,"m":33.3,"l":26.3,"h":40.4},{"s":"E","e":175,"m":32.9,"l":26.0,"h":41.0},{"s":"E","e":185,"m":33.4,"l":26.5,"h":40.8},{"s":"E","e":195,"m":33.2,"l":25.9,"h":41.3},{"s":"E","e":205,"m":33.4,"l":26.5,"h":40.9},{"s":"E","e":215,"m":33.9,"l":26.0,"h":41.6},{"s":"E","e":225,"m":33.7,"l":26.6,"h":41.3},{"s":"E","e":235,"m":33.9,"l":26.3,"h":42.2},{"s":"E","e":245,"m":34.2,"l":26.7,"h":41.5},{"s":"E","e":255,"m":34.2,"l":26.5,"h":42.0},{"s":"E","e":265,"m":34.5,"l":26.9,"h":41.6},{"s":"E","e":275,"m":34.4,"l":26.7,"h":42.3},{"s":"E","e":285,"m":34.4,"l":27.0,"h":42.2},{"s":"E","e":295,"m":34.5,"l":26.8,"h":42.6},{"s":"E","e":305,"m":34.7,"l":27.2,"h":41.9},{"s":"E","e":315,"m":34.6,"l":27.0,"h":42.0},{"s":"E","e":325,"m":34.5,"l":27.1,"h":41.9},{"s":"E","e":335,"m":34.9,"l":27.4,"h":41.6},{"s":"E","e":345,"m":34.7,"l":27.1,"h":42.2},{"s":"E","e":355,"m":34.9,"l":27.2,"h":42.2},{"s":"E","e":365,"m":34.8,"l":27.5,"h":42.5},{"s":"E","e":375,"m":35.3,"l":27.3,"h":42.4},{"s":"E","e":385,"m":35.0,"l":27.5,"h":41.9},{"s":"E","e":395,"m":35.1,"l":27.4,"h":42.6},{"s":"E","e":405,"m":35.3,"l":27.5,"h":42.7},{"s":"E","e":415,"m":34.9,"l":27.8,"h":43.2},{"s":"E","e":425,"m":35.0,"l":27.7,"h":42.7},{"s":"E","e":435,"m":35.1,"l":27.4,"h":42.9},{"s":"E","e":445,"m":35.4,"l":27.8,"h":42.8},{"s":"E","e":455,"m":35.2,"l":27.4,"h":42.6},{"s":"E","e":465,"m":35.4,"l":27.9,"h":42.9},{"s":"E","e":475,"m":35.1,"l":27.5,"h":42.7},{"s":"E","e":485,"m":35.3,"l":27.4,"h":42.8},{"s":"E","e":495,"m":35.2,"l":27.7,"h":42.9},
      {"s":"F","e":45,"m":15.4,"l":13.1,"h":17.9},{"s":"F","e":55,"m":16.1,"l":13.3,"h":19.0},{"s":"F","e":65,"m":16.6,"l":12.9,"h":20.1},{"s":"F","e":75,"m":17.4,"l":13.6,"h":21.1},{"s":"F","e":85,"m":18.0,"l":13.5,"h":21.8},{"s":"F","e":95,"m":18.8,"l":14.4,"h":22.8},{"s":"F","e":105,"m":19.2,"l":14.8,"h":23.7},{"s":"F","e":115,"m":19.6,"l":15.5,"h":24.1},{"s":"F","e":125,"m":19.8,"l":15.4,"h":24.7},{"s":"F","e":135,"m":20.5,"l":16.2,"h":25.4},{"s":"F","e":145,"m":21.2,"l":16.5,"h":26.3},{"s":"F","e":155,"m":21.2,"l":16.4,"h":26.8},{"s":"F","e":165,"m":21.6,"l":16.8,"h":26.3},{"s":"F","e":175,"m":22.2,"l":17.2,"h":27.4},{"s":"F","e":185,"m":23.2,"l":18.1,"h":28.9},{"s":"F","e":195,"m":24.0,"l":19.0,"h":30.1},{"s":"F","e":205,"m":24.4,"l":19.3,"h":29.3},{"s":"F","e":215,"m":24.3,"l":19.6,"h":29.0},{"s":"F","e":225,"m":24.9,"l":19.8,"h":30.6},{"s":"F","e":235,"m":25.6,"l":20.7,"h":32.2},{"s":"F","e":245,"m":26.3,"l":21.5,"h":31.2},{"s":"F","e":255,"m":26.8,"l":21.9,"h":31.9},{"s":"F","e":265,"m":26.7,"l":21.6,"h":31.8},{"s":"F","e":275,"m":27.0,"l":21.9,"h":32.0},{"s":"F","e":285,"m":27.2,"l":22.4,"h":32.6},{"s":"F","e":295,"m":27.0,"l":22.2,"h":31.9},{"s":"F","e":305,"m":27.3,"l":22.7,"h":32.1},{"s":"F","e":315,"m":27.6,"l":22.8,"h":32.8},{"s":"F","e":325,"m":28.0,"l":23.0,"h":32.7},{"s":"F","e":335,"m":28.5,"l":23.6,"h":33.4},{"s":"F","e":345,"m":28.2,"l":23.2,"h":33.2},{"s":"F","e":355,"m":29.2,"l":24.1,"h":34.6},{"s":"F","e":365,"m":29.4,"l":24.7,"h":34.9},{"s":"F","e":375,"m":29.7,"l":24.4,"h":35.4},{"s":"F","e":385,"m":30.0,"l":24.9,"h":34.9},{"s":"F","e":395,"m":30.3,"l":25.4,"h":35.6},{"s":"F","e":405,"m":30.5,"l":25.1,"h":35.5},{"s":"F","e":415,"m":30.6,"l":25.6,"h":35.7},{"s":"F","e":425,"m":30.9,"l":25.0,"h":36.3},{"s":"F","e":435,"m":31.1,"l":26.0,"h":37.0},{"s":"F","e":445,"m":31.4,"l":26.5,"h":36.8},{"s":"F","e":455,"m":31.8,"l":26.3,"h":37.3},{"s":"F","e":465,"m":32.0,"l":26.1,"h":37.9},{"s":"F","e":475,"m":31.9,"l":25.8,"h":37.4},{"s":"F","e":485,"m":32.2,"l":26.3,"h":37.6},{"s":"F","e":495,"m":32.1,"l":26.7,"h":37.3},
      {"s":"G","e":45,"m":28.4,"l":23.3,"h":34.2},{"s":"G","e":55,"m":29.9,"l":24.4,"h":34.8},{"s":"G","e":65,"m":30.2,"l":25.6,"h":35.5},{"s":"G","e":75,"m":31.1,"l":26.5,"h":36.2},{"s":"G","e":85,"m":31.8,"l":27.2,"h":37.0},{"s":"G","e":95,"m":32.8,"l":27.6,"h":37.6},{"s":"G","e":105,"m":32.6,"l":28.7,"h":37.9},{"s":"G","e":115,"m":34.0,"l":30.0,"h":38.3},{"s":"G","e":125,"m":34.0,"l":30.3,"h":38.8},{"s":"G","e":135,"m":34.6,"l":30.3,"h":38.4},{"s":"G","e":145,"m":34.9,"l":31.0,"h":38.7},{"s":"G","e":155,"m":35.1,"l":31.5,"h":38.5},{"s":"G","e":165,"m":34.6,"l":31.6,"h":38.9},{"s":"G","e":175,"m":35.4,"l":31.8,"h":39.4},{"s":"G","e":185,"m":35.3,"l":31.6,"h":39.8},{"s":"G","e":195,"m":35.8,"l":32.1,"h":40.1},{"s":"G","e":205,"m":36.5,"l":32.6,"h":40.4},{"s":"G","e":215,"m":36.4,"l":32.9,"h":40.7},{"s":"G","e":225,"m":36.7,"l":33.1,"h":41.0},{"s":"G","e":235,"m":36.9,"l":33.2,"h":40.9},{"s":"G","e":245,"m":37.1,"l":33.3,"h":41.3},{"s":"G","e":255,"m":37.2,"l":33.5,"h":41.7},{"s":"G","e":265,"m":37.5,"l":33.7,"h":42.0},{"s":"G","e":275,"m":37.8,"l":33.9,"h":42.1},{"s":"G","e":285,"m":38.2,"l":34.0,"h":42.6},{"s":"G","e":295,"m":38.4,"l":34.2,"h":42.8},{"s":"G","e":305,"m":38.5,"l":34.3,"h":42.6},{"s":"G","e":315,"m":38.7,"l":34.6,"h":42.7},{"s":"G","e":325,"m":38.9,"l":35.0,"h":42.8},{"s":"G","e":335,"m":38.8,"l":35.1,"h":42.7},{"s":"G","e":345,"m":38.8,"l":35.0,"h":43.4},{"s":"G","e":355,"m":39.3,"l":35.1,"h":44.1},{"s":"G","e":365,"m":39.5,"l":35.2,"h":44.2},{"s":"G","e":375,"m":39.3,"l":35.3,"h":44.2},{"s":"G","e":385,"m":39.7,"l":35.4,"h":44.7},{"s":"G","e":395,"m":40.0,"l":35.6,"h":45.0},{"s":"G","e":405,"m":40.1,"l":35.7,"h":44.8},{"s":"G","e":415,"m":40.0,"l":35.9,"h":45.2},{"s":"G","e":425,"m":40.5,"l":36.1,"h":45.6},{"s":"G","e":435,"m":40.6,"l":36.3,"h":45.4},{"s":"G","e":445,"m":40.8,"l":36.5,"h":45.4},{"s":"G","e":455,"m":40.9,"l":36.4,"h":45.6},{"s":"G","e":465,"m":41.2,"l":36.4,"h":45.5},{"s":"G","e":475,"m":41.3,"l":36.4,"h":45.7},{"s":"G","e":485,"m":41.0,"l":36.3,"h":45.6},{"s":"G","e":495,"m":40.9,"l":36.2,"h":45.5}
    ]
  },
  "data": {"name": "runs"},
  "encoding": {
    "x": {
      "field": "e",
      "type": "quantitative",
      "scale": {"domain": [-10, 500], "nice": false, "zero": false},
      "axis": {"title": "Epoch", "values": [0, 200, 400]}
    }
  },
  "layer": [
    {
      "mark": {"type": "area", "fillOpacity": 0.3, "strokeOpacity": 0.3, "strokeWidth": 3, "strokeJoin": "round"},
      "encoding": {
        "y": {
          "field": "l",
          "type": "quantitative",
          "scale": {"domain": [6.04, 70.34], "nice": false, "zero": false},
          "axis": {"title": "Test Accuracy (%)", "values": [20, 40, 60]}
        },
        "y2": {"field": "h"},
        "color": {
          "field": "s",
          "type": "nominal",
          "scale": {"domain": ["A", "B", "C", "D", "E", "F", "G"], "range": ["#1f77b4", "#ff7f0e", "#2ca02c", "#d62728", "#9467bd", "#8c564b", "#e377c2"]},
          "legend": null
        },
        "stroke": {
          "field": "s",
          "type": "nominal",
          "scale": {"domain": ["A", "B", "C", "D", "E", "F", "G"], "range": ["#1f77b4", "#ff7f0e", "#2ca02c", "#d62728", "#9467bd", "#8c564b", "#e377c2"]},
          "legend": null
        }
      }
    },
    {
      "mark": {"type": "line", "strokeWidth": 7, "strokeJoin": "round"},
      "encoding": {
        "y": {"field": "m", "type": "quantitative"},
        "color": {"field": "s", "type": "nominal", "legend": null}
      }
    }
  ],
  "config": {
    "view": {"stroke": "black", "strokeWidth": 3.3},
    "axis": {
      "domain": false,
      "grid": false,
      "ticks": true,
      "tickColor": "black",
      "tickWidth": 3,
      "tickSize": -14,
      "labelFont": "Liberation Serif",
      "labelFontSize": 104,
      "labelColor": "black",
      "titleFont": "Liberation Serif",
      "titleFontSize": 104,
      "titleFontWeight": "normal",
      "titleColor": "black"
    },
    "axisX": {"labelPadding": 24, "titlePadding": -6},
    "axisY": {"labelPadding": 34, "titlePadding": 17}
  }
}
